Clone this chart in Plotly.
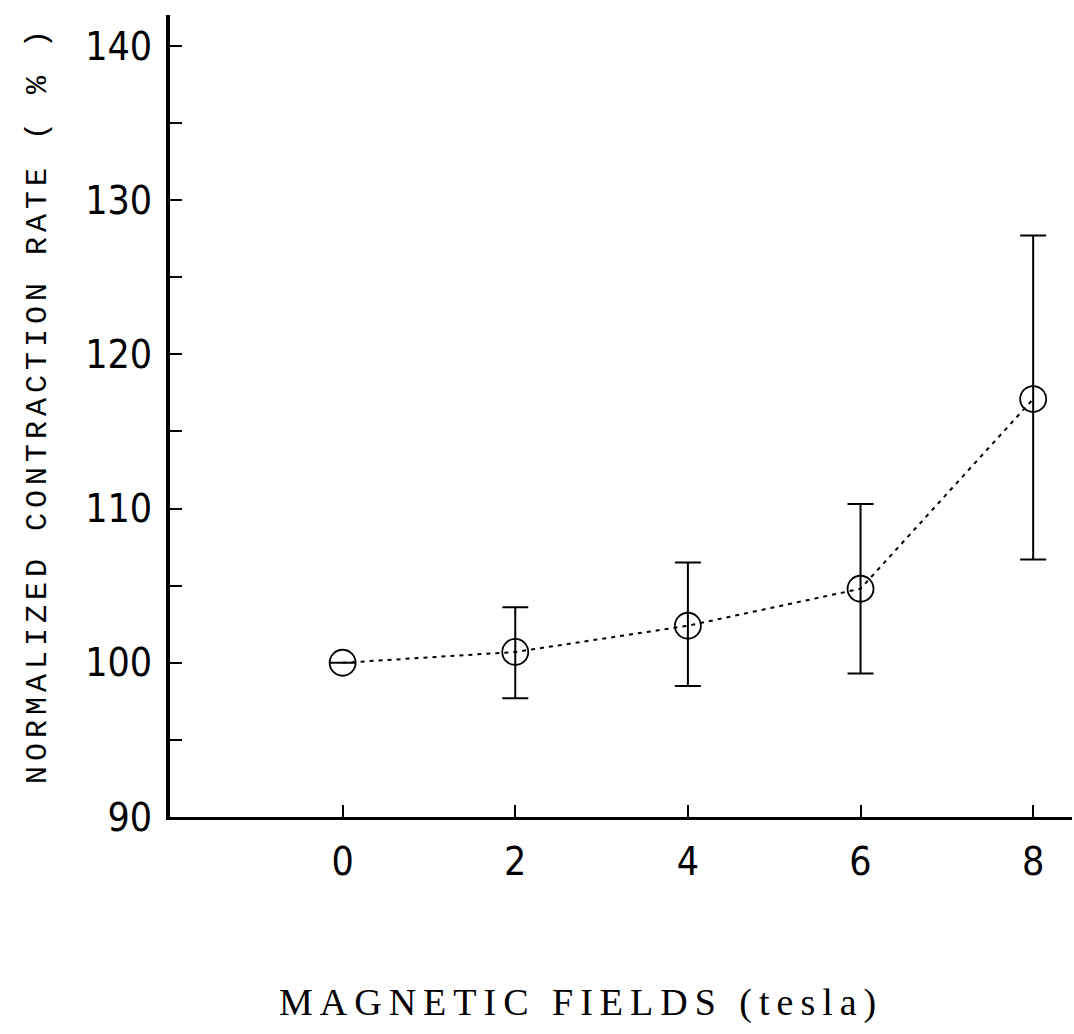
import plotly.graph_objects as go

# Data
fields_tesla = [0, 2, 4, 6, 8]
contraction_rate = [100.0, 100.7, 102.4, 104.8, 117.1]
err_plus = [0.0, 2.9, 4.1, 5.5, 10.6]
err_minus = [0.0, 3.0, 3.9, 5.5, 10.4]
x_tick_vals = [0, 2, 4, 6, 8]
x_tick_text = ["0", "2", "4", "6", "8"]
y_tick_vals = [90, 100, 110, 120, 130, 140]
y_tick_text = ["90", "100", "110", "120", "130", "140"]

x_title = "MAGNETIC FIELDS (tesla)"
y_title = "NORMALIZED CONTRACTION RATE ( % )"

NARROW = "Liberation Sans Narrow, Arial Narrow, DejaVu Sans Condensed, sans-serif"

fig = go.Figure()
fig.add_trace(go.Scatter(
    x=fields_tesla,
    y=contraction_rate,
    mode="lines+markers",
    line=dict(color="black", width=2, dash="4px,5px"),
    marker=dict(symbol="circle-open", size=26, color="black",
                line=dict(color="black", width=1.8)),
    error_y=dict(type="data", symmetric=False, array=err_plus,
                 arrayminus=err_minus, color="black", thickness=2,
                 width=13),
    showlegend=False,
))

fig.update_layout(
    width=1074, height=1034,
    margin=dict(l=170, r=2, t=15, b=217),
    paper_bgcolor="white", plot_bgcolor="white",
    xaxis=dict(
        range=[-2, 8.45], showgrid=False, zeroline=False,
        showline=True, linecolor="black", linewidth=3,
        ticks="inside", ticklen=12, tickwidth=1.5, tickcolor="black",
        tickvals=x_tick_vals, ticktext=x_tick_text,
        tickfont=dict(family=NARROW, size=39, color="black"),
        ticklabelstandoff=8,
    ),
    yaxis=dict(
        range=[90, 142], showgrid=False, zeroline=False,
        showline=True, linecolor="black", linewidth=4,
        ticks="inside", ticklen=12, tickwidth=1.5, tickcolor="black",
        tickvals=y_tick_vals, ticktext=y_tick_text,
        tickfont=dict(family=NARROW, size=39, color="black"),
        ticklabelstandoff=6,
        minor=dict(dtick=5, ticks="inside", ticklen=12, tickwidth=1.5,
                   tickcolor="black", showgrid=False),
    ),
    annotations=[
        dict(
            text='<span style="letter-spacing:5px">' + y_title + '</span>',
            xref="paper", yref="paper",
            x=(38 - 170) / 902, y=(817 - 405) / 802,
            xanchor="center", yanchor="middle", textangle=-90,
            showarrow=False,
            font=dict(family="Liberation Mono, Courier New, monospace",
                      size=30, color="black"),
        ),
        dict(
            text='<span style="letter-spacing:7px">' + x_title + '</span>',
            xref="paper", yref="paper",
            x=(581 - 170) / 902, y=(817 - 1003) / 802,
            xanchor="center", yanchor="middle",
            showarrow=False,
            font=dict(family="Liberation Serif, serif", size=38, color="black"),
        ),
    ],
)

fig.write_html("out.html")
